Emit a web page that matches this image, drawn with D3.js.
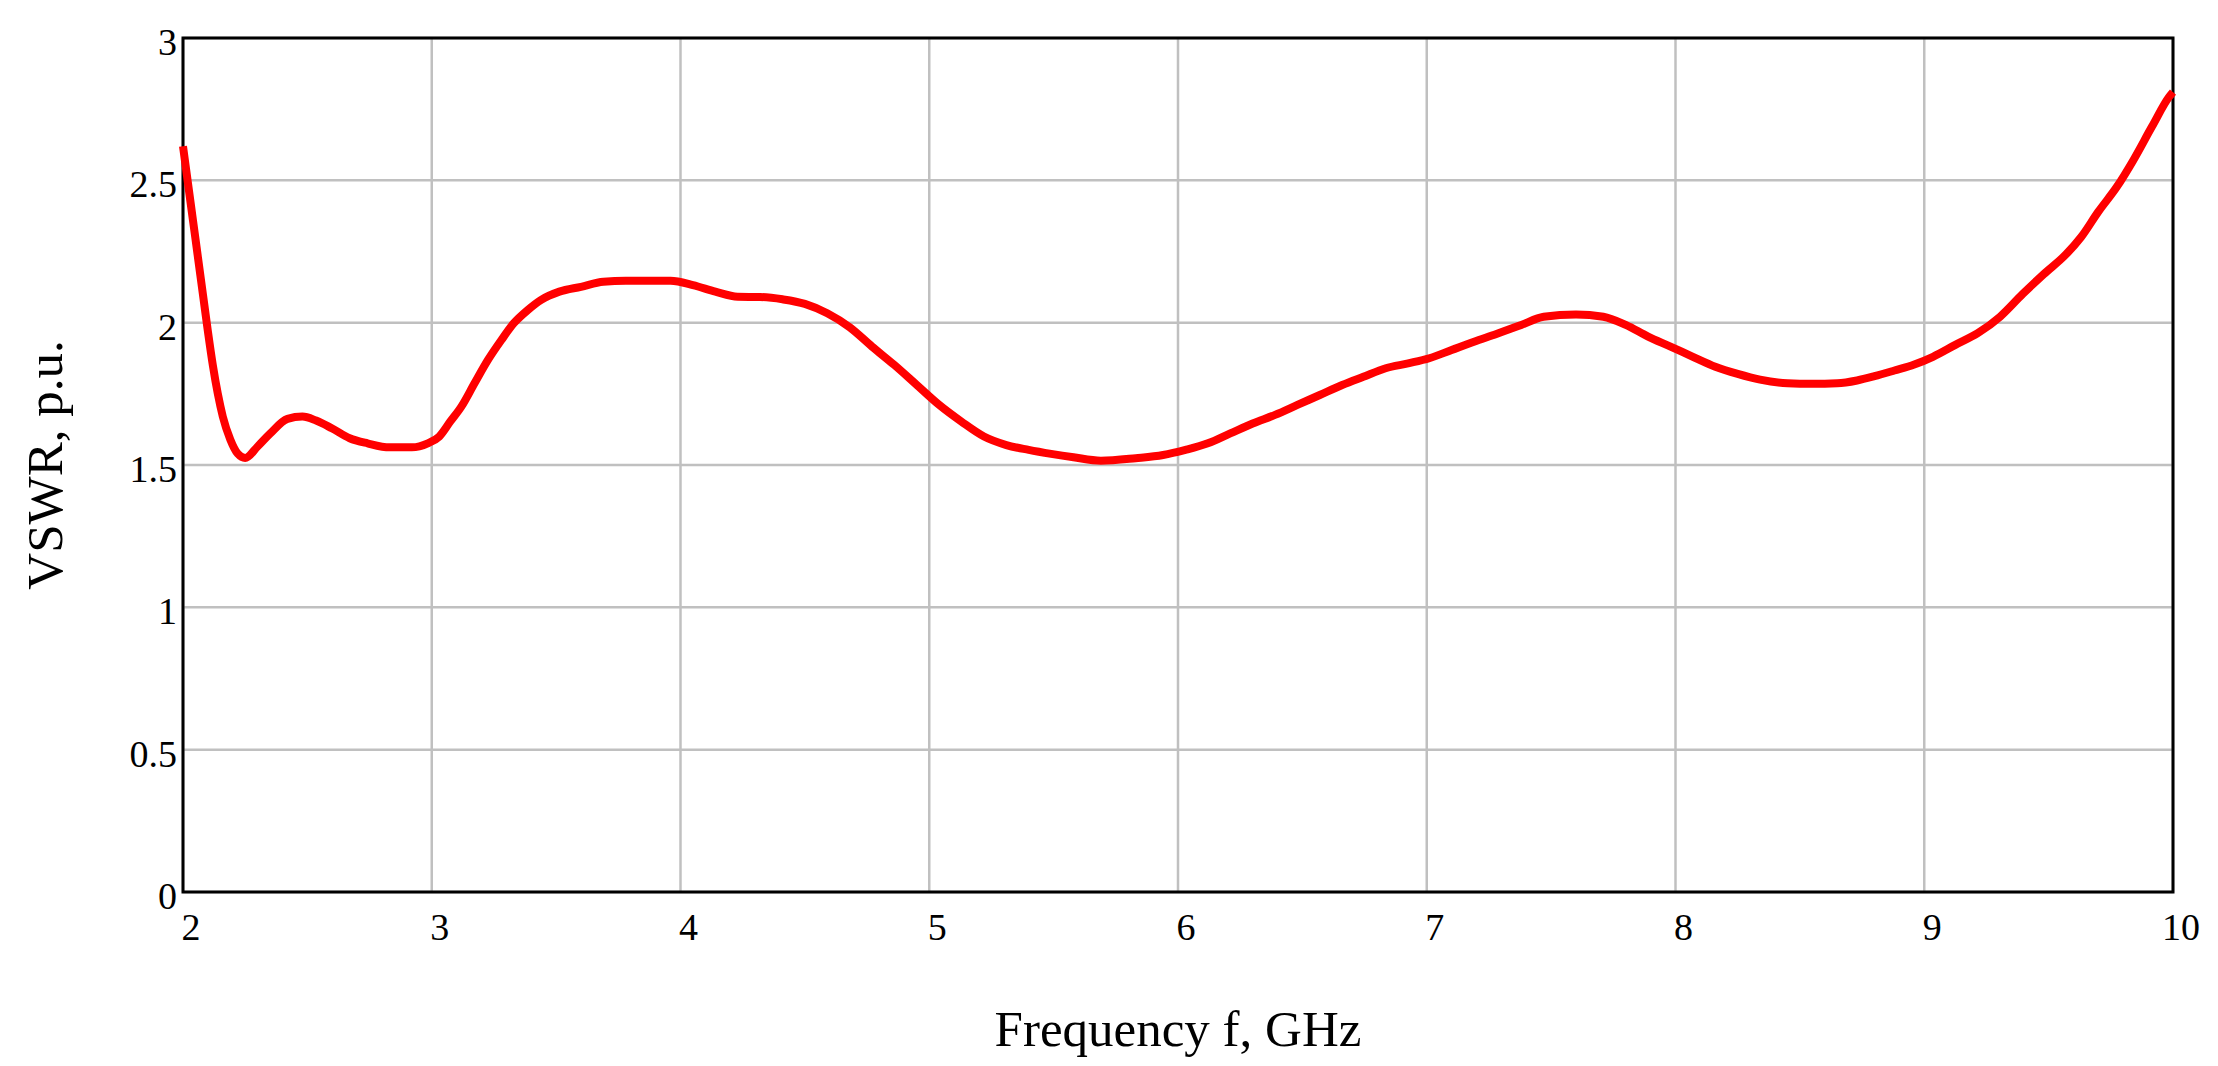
<!DOCTYPE html>
<html>
<head>
<meta charset="utf-8">
<script src="https://cdn.jsdelivr.net/npm/d3@7/dist/d3.min.js"></script>
<style>
  html, body { margin: 0; padding: 0; background: #fff; }
  svg { display: block; }
</style>
</head>
<body>
<script>
// ---- Data ----
const freq = [2.00, 2.02, 2.04, 2.06, 2.08, 2.10, 2.12, 2.14, 2.16, 2.19, 2.22, 2.25, 2.30, 2.35, 2.42, 2.48,
  2.535, 2.598, 2.67, 2.742, 2.831, 2.92, 2.984, 3.03, 3.074, 3.119, 3.172, 3.226, 3.28, 3.33, 3.387,
  3.44, 3.513, 3.60, 3.69, 3.78, 3.96, 4.05, 4.14, 4.23, 4.32, 4.41, 4.50, 4.59, 4.68, 4.77,
  4.86, 4.95, 5.04, 5.13, 5.22, 5.31, 5.40, 5.49, 5.58, 5.69, 5.83, 5.94, 6.03, 6.12, 6.21,
  6.30, 6.39, 6.48, 6.57, 6.66, 6.745, 6.835, 6.925, 7.01, 7.10, 7.19, 7.28, 7.38, 7.47, 7.60,
  7.71, 7.80, 7.89, 7.98, 8.07, 8.16, 8.25, 8.34, 8.45, 8.55, 8.65, 8.73, 8.80, 8.88, 8.96, 9.035,
  9.125, 9.215, 9.305, 9.395, 9.48, 9.57, 9.63, 9.70, 9.775, 9.84, 9.915, 9.985, 10.00];
const vswr = [2.62, 2.49, 2.36, 2.23, 2.10, 1.97, 1.85, 1.75, 1.67, 1.59, 1.54, 1.525, 1.565, 1.61, 1.662, 1.670,
  1.656, 1.629, 1.594, 1.576, 1.562, 1.562, 1.576, 1.60, 1.652, 1.705, 1.787, 1.869, 1.939, 1.998, 2.045,
  2.08, 2.109, 2.126, 2.144, 2.147, 2.147, 2.132, 2.109, 2.091, 2.09, 2.082, 2.066, 2.033, 1.984, 1.916,
  1.851, 1.781, 1.711, 1.652, 1.60, 1.57, 1.553, 1.539, 1.527, 1.515, 1.524, 1.535, 1.553, 1.576, 1.611,
  1.646, 1.676, 1.711, 1.746, 1.781, 1.81, 1.84, 1.857, 1.875, 1.904, 1.933, 1.96, 1.992, 2.021, 2.029,
  2.021, 1.992, 1.951, 1.916, 1.88, 1.845, 1.82, 1.80, 1.787, 1.785, 1.787, 1.797, 1.812, 1.832, 1.853, 1.88,
  1.922, 1.963, 2.021, 2.10, 2.17, 2.24, 2.30, 2.39, 2.478, 2.57, 2.688, 2.794, 2.81];
const xTicks = [2, 3, 4, 5, 6, 7, 8, 9, 10];
const yTicks = [0, 0.5, 1, 1.5, 2, 2.5, 3];
const xLabel = "Frequency f, GHz";
const yLabel = "VSWR, p.u.";

// ---- Layout ----
const W = 2218, H = 1066;
const plot = { left: 183, top: 38, right: 2173, bottom: 892 };
const fontFam = "'Liberation Serif', 'Times New Roman', 'DejaVu Serif', serif";

const svg = d3.select("body").append("svg").attr("width", W).attr("height", H);

const x = d3.scaleLinear().domain([2, 10]).range([plot.left, plot.right]);
const y = d3.scaleLinear().domain([0, 3]).range([plot.bottom, plot.top]);

// Grid
const grid = svg.append("g").attr("stroke", "#c0c0c0").attr("stroke-width", 2.5);
grid.selectAll("line.v").data(xTicks).join("line")
  .attr("x1", d => x(d)).attr("x2", d => x(d))
  .attr("y1", plot.top).attr("y2", plot.bottom);
grid.selectAll("line.h").data(yTicks).join("line")
  .attr("y1", d => y(d)).attr("y2", d => y(d))
  .attr("x1", plot.left).attr("x2", plot.right);

// Frame
svg.append("rect")
  .attr("x", plot.left).attr("y", plot.top)
  .attr("width", plot.right - plot.left).attr("height", plot.bottom - plot.top)
  .attr("fill", "none").attr("stroke", "#000").attr("stroke-width", 3);

// Tick labels
svg.append("g").selectAll("text").data(xTicks).join("text")
  .attr("x", d => x(d) + 8).attr("y", 940)
  .attr("text-anchor", "middle")
  .attr("font-family", fontFam).attr("font-size", 38).attr("fill", "#000")
  .text(d => d);

svg.append("g").selectAll("text").data(yTicks).join("text")
  .attr("x", 177).attr("y", d => y(d) + 17)
  .attr("text-anchor", "end")
  .attr("font-family", fontFam).attr("font-size", 38).attr("fill", "#000")
  .text(d => d);

// Axis titles
svg.append("text")
  .attr("x", (plot.left + plot.right) / 2).attr("y", 1046)
  .attr("text-anchor", "middle")
  .attr("font-family", fontFam).attr("font-size", 51).attr("fill", "#000")
  .text(xLabel);

svg.append("text")
  .attr("transform", "translate(62,465) rotate(-90)")
  .attr("text-anchor", "middle")
  .attr("font-family", fontFam).attr("font-size", 51).attr("fill", "#000")
  .text(yLabel);

// Curve
const pts = freq.map((f, i) => [f, vswr[i]]);
const line = d3.line().x(d => x(d[0])).y(d => y(d[1])).curve(d3.curveMonotoneX);
svg.append("path").datum(pts)
  .attr("d", line)
  .attr("fill", "none").attr("stroke", "#ff0000").attr("stroke-width", 8)
  .attr("stroke-linejoin", "round");
</script>
</body>
</html>
